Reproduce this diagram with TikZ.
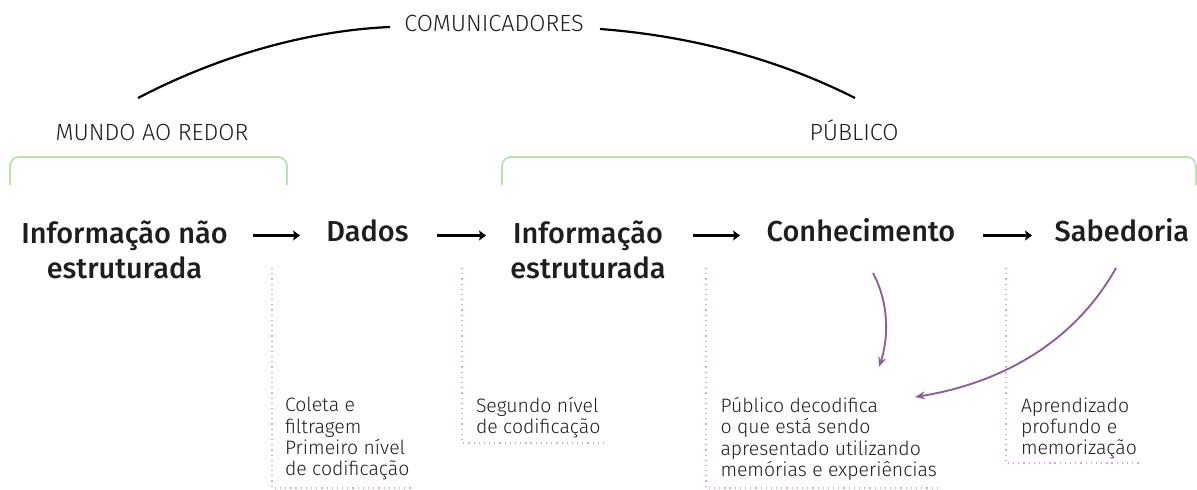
\documentclass[tikz,border=0pt]{standalone}
\usepackage{fontspec}
\setmainfont{Fira Sans}[UprightFont={* Light}]
\newfontfamily\medfont{Fira Sans}[UprightFont={* Medium}]
\usetikzlibrary{arrows.meta}
\definecolor{txt}{RGB}{30,30,30}
\definecolor{grn}{RGB}{190,225,170}
\definecolor{purp}{RGB}{140,95,160}
\definecolor{dotc}{RGB}{215,165,225}
\begin{document}
\begin{tikzpicture}[x=1bp,y=-1bp,
  every node/.style={text=txt,inner sep=0pt,outer sep=0pt},
  captxt/.style={font=\fontsize{23.5}{26}\selectfont,anchor=base},
  mainw/.style={font=\medfont\fontsize{29}{35}\selectfont,align=center},
  small/.style={font=\fontsize{19.5}{21.3}\selectfont,align=left,anchor=north west},
  bracket/.style={draw=grn,line width=1.8pt,rounded corners=9bp},
  flow/.style={draw=black,line width=2.2bp,-{Stealth[length=7bp,width=10bp,inset=1.5bp]}},
  purpa/.style={draw=purp,line width=1.9bp,-{Stealth[length=10bp,width=8bp]}},
  dotl/.style={draw=dotc,line width=1.2pt,dash pattern=on 1.2pt off 4pt},
  arcl/.style={draw=black,line width=2.2bp}]
\useasboundingbox (0,0) rectangle (1197,490);
% top caption and arc
\node[captxt] (com) at (494,32) {COMUNICADORES};
\coordinate (al) at (138,98);
\coordinate (ar) at (855,98);
\draw[arcl] (al) .. controls (230,50) and (320,30) .. (390,27);
\draw[arcl] (600,29) .. controls (680,35) and (770,55) .. (ar);
\node[captxt] (mundo) at (152,141) {MUNDO AO REDOR};
\node[captxt] (pub) at (854,141) {PÚBLICO};
% green brackets
\draw[bracket] (10,185) -- (10,157) -- (287,157) -- (287,185);
\draw[bracket] (502,185) -- (502,157) -- (1196,157) -- (1196,185);
% main words
\node[mainw,anchor=north] (inf1) at (124.5,220.5) {Informação não\\estruturada};
\node[mainw,anchor=base] (dados) at (367.5,242) {Dados};
\node[mainw,anchor=north] (inf2) at (588,220.5) {Informação\\estruturada};
\node[mainw,anchor=base] (con) at (861,242) {Conhecimento};
\node[mainw,anchor=base] (sab) at (1122,242) {Sabedoria};
\coordinate (a1s) at (253,235.5); \coordinate (a1e) at (300,235.5);
\coordinate (a2s) at (437,235.5); \coordinate (a2e) at (486,235.5);
\coordinate (a3s) at (693,235.5); \coordinate (a3e) at (740,235.5);
\coordinate (a4s) at (983,235.5); \coordinate (a4e) at (1032,235.5);
\draw[flow] (a1s) -- (a1e);
\draw[flow] (a2s) -- (a2e);
\draw[flow] (a3s) -- (a3e);
\draw[flow] (a4s) -- (a4e);
% dotted frames
\draw[dotl] (272,268) -- (272,488) -- (412,488);
\draw[dotl] (462,268) -- (462,443) -- (607,443);
\draw[dotl] (706,268) -- (706,488) -- (940,488);
\draw[dotl] (1006,268) -- (1006,463) -- (1140,463);
% small texts
\node[small] (t1) at (285,397.5) {Coleta e\\filtragem\\Primeiro nível\\de codificação};
\node[small] (t2) at (476,397.5) {Segundo nível\\de codificação};
\node[small] (t3) at (720.5,397.5) {Público decodifica\\o que está sendo\\apresentado utilizando\\memórias e experiências};
\node[small] (t4) at (1021,397.5) {Aprendizado\\profundo e\\memorização};
% purple arrows
\coordinate (p1s) at (873,273); \coordinate (p1e) at (879,367);
\coordinate (p2s) at (1116,268); \coordinate (p2e) at (915,397);
\draw[purpa] (p1s) .. controls (890,305) and (888,340) .. (p1e);
\draw[purpa] (p2s) .. controls (1070,350) and (990,385) .. (p2e);
\end{tikzpicture}
\end{document}
